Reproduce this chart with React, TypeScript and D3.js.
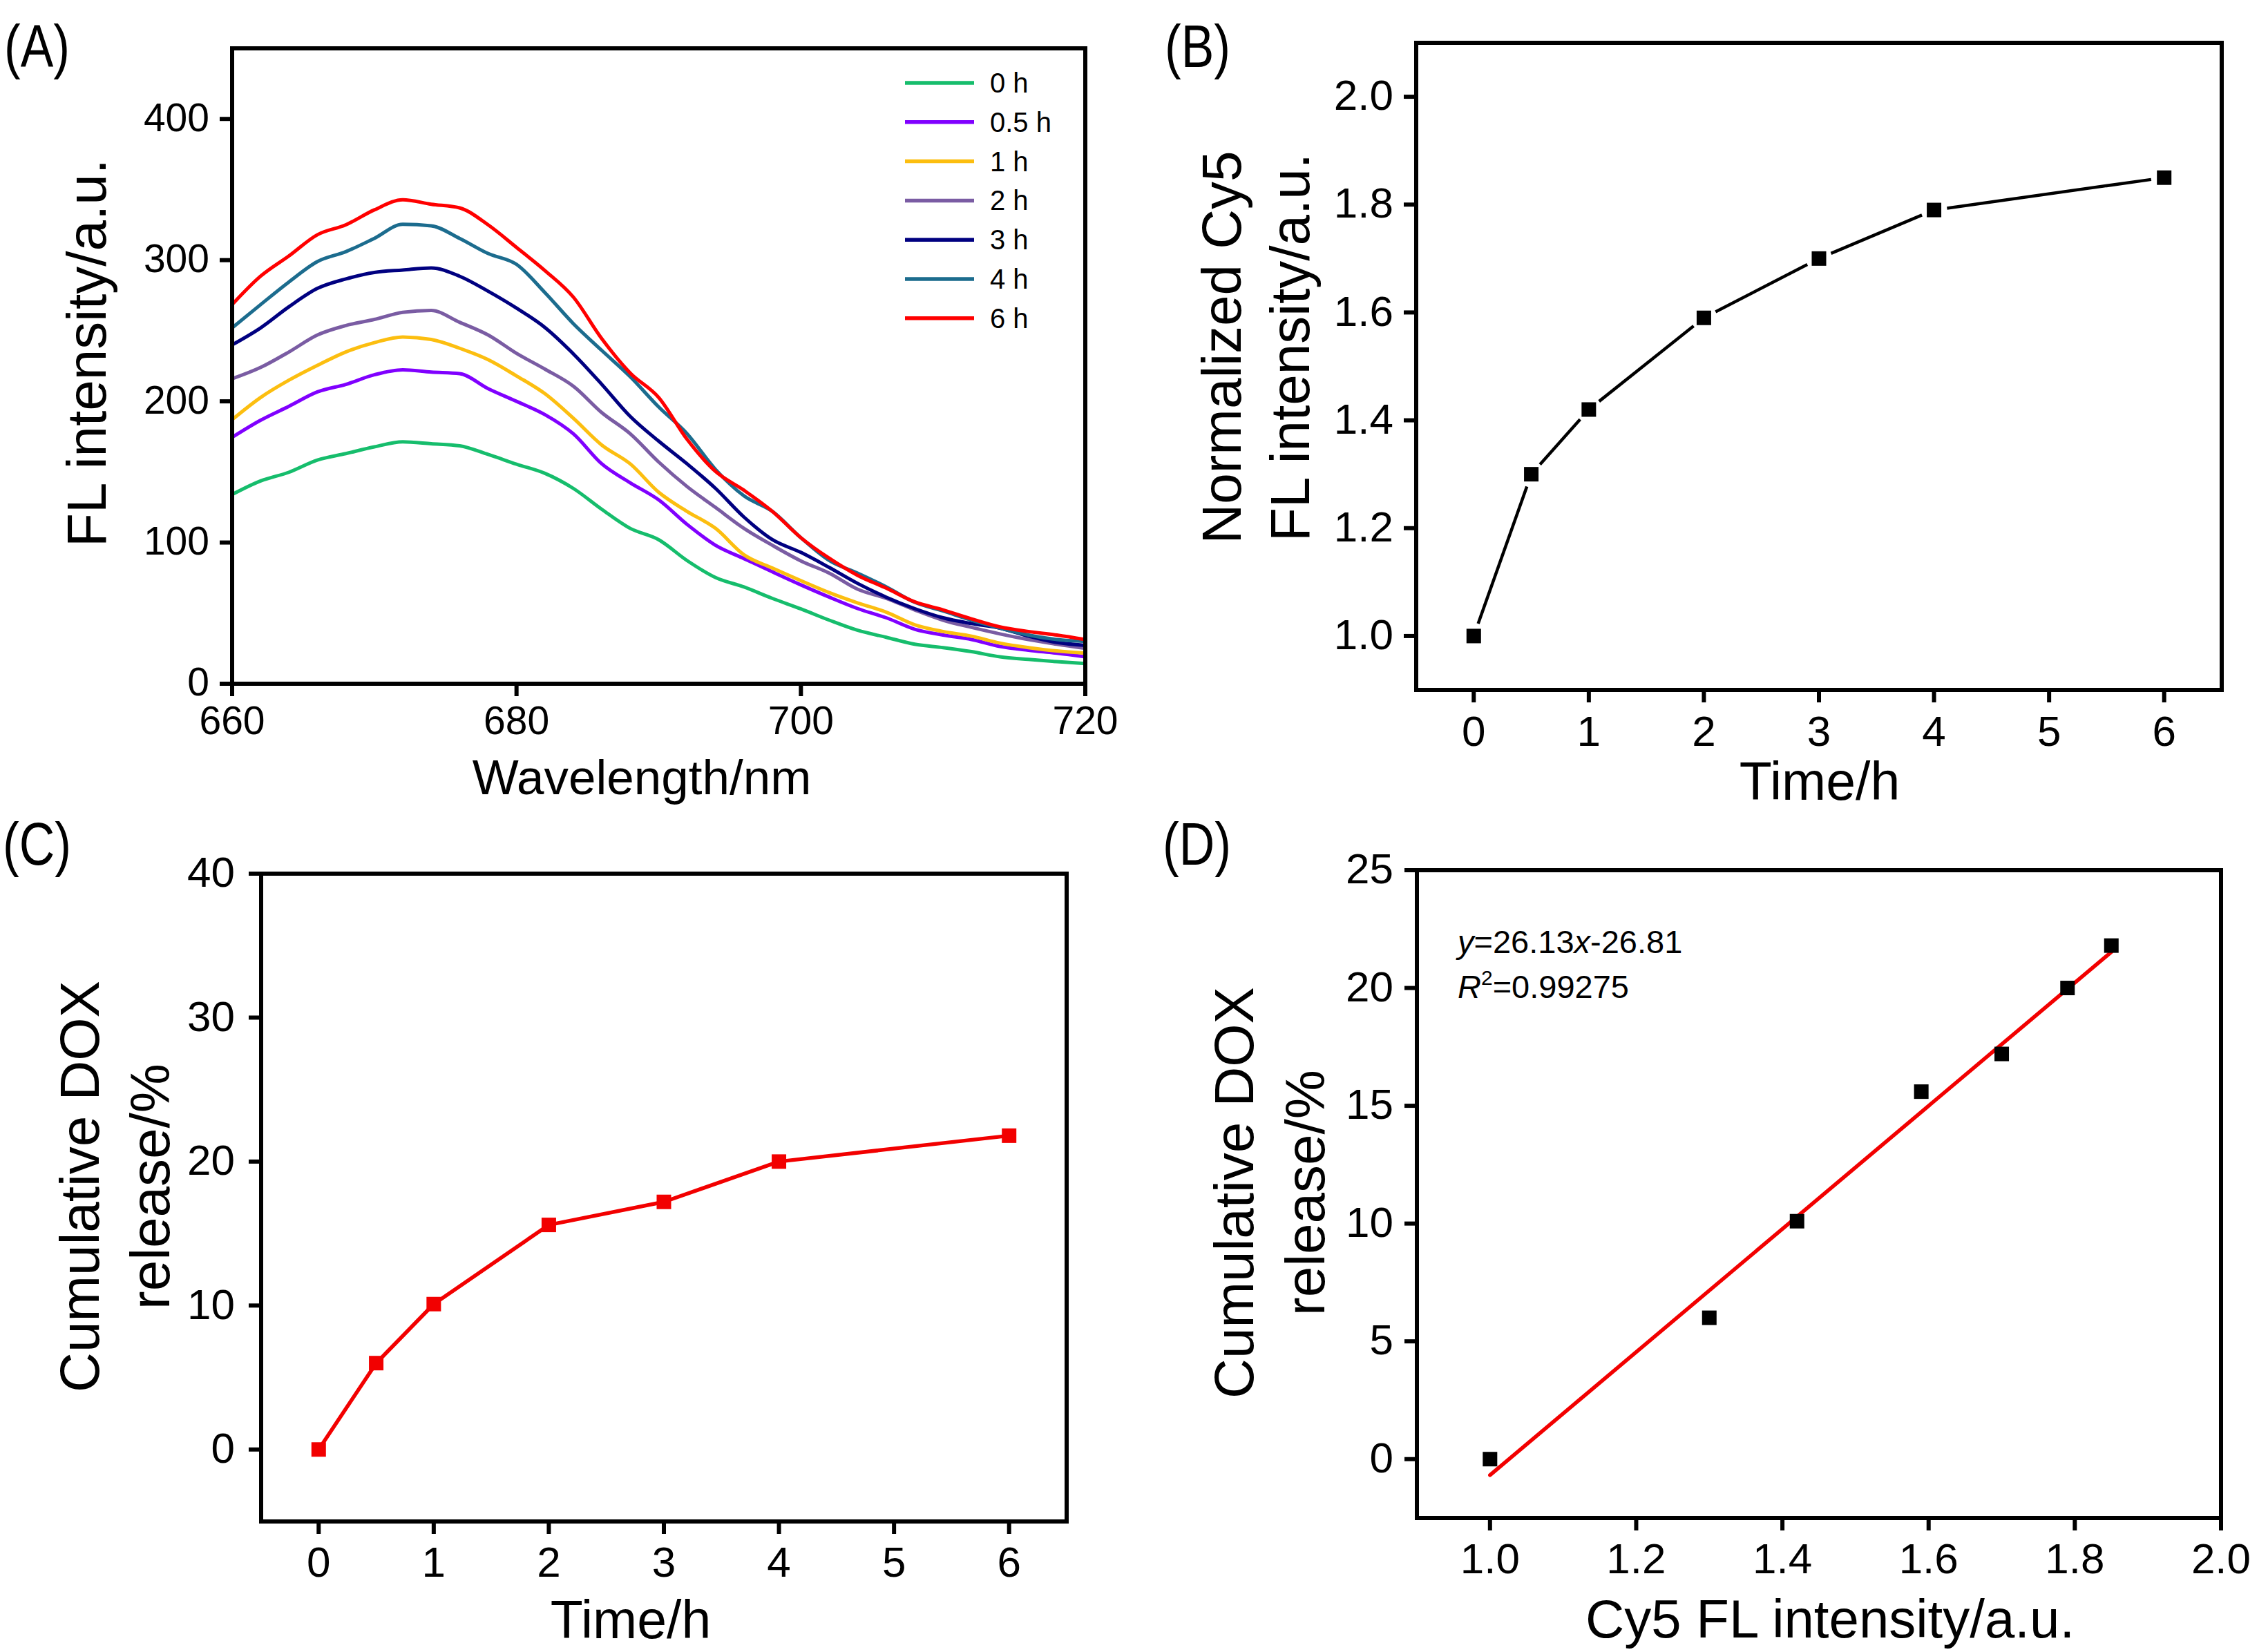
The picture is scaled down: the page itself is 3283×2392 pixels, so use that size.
import React from "react";
import * as d3 from "d3";

// ---------- DATA ----------
const wavelengths = [660, 662, 664, 666, 668, 670, 672, 674, 676, 678, 680, 682, 684, 686, 688, 690, 692, 694, 696, 698, 700, 702, 704, 706, 708, 710, 712, 714, 716, 718, 720];

const spec0h = [134, 143.6, 149.8, 158.4, 163, 167.8, 171.3, 170, 168.5, 162.4, 155.5, 149, 138.3, 123.5, 110, 102, 87.2, 75.2, 68.5, 60.4, 53, 45, 37.8, 32.9, 28, 25.6, 22.7, 19.1, 17.2, 15.6, 14.3];
const spec05h = [174.5, 186.6, 196.5, 206.7, 212, 218.8, 222.3, 220.7, 219.6, 209, 200, 190.6, 177, 155.7, 142.3, 130.2, 112.8, 98, 88.6, 79.2, 70, 61.3, 53.2, 46.7, 38.6, 34.5, 31.3, 26.4, 23.7, 21.6, 19.1];
const spec1h = [187, 202.7, 215, 225.5, 235, 241.6, 245.6, 243.8, 237.6, 229.5, 218, 205.4, 188, 169, 155.7, 135.6, 122, 110, 91.3, 81.9, 73, 64.5, 57.2, 50.7, 41.8, 37, 33.7, 28.8, 25.6, 23.2, 21.6];
const spec2h = [216, 224, 235, 247, 253.7, 258, 263, 264.4, 256, 247, 234, 222.8, 210.7, 192, 177, 157, 139.6, 124.8, 110, 98, 87, 78.3, 66.9, 60.5, 52.3, 45, 39.9, 35.3, 31.3, 28, 25.1];
const spec3h = [240, 252, 267, 280, 286.7, 291.3, 293, 294.5, 288.6, 278, 266, 252.3, 233.6, 212, 189.3, 171.8, 155.7, 138.3, 118, 102, 93, 82.3, 71, 61.3, 53.2, 46.7, 42.6, 39.4, 33.7, 29.2, 27.2];
const spec4h = [252, 268.5, 284.6, 299, 306, 315.4, 325.4, 324.3, 315.4, 304.7, 297, 277, 255, 236, 217.4, 196, 177, 151.7, 133, 122, 103.4, 87.2, 78.3, 68.6, 57.7, 51.5, 45, 39.4, 34.5, 31.3, 30];
const spec6h = [268.5, 288.6, 303, 318, 325, 335.6, 342.8, 339.6, 337, 325, 309, 292.6, 273.8, 244.3, 220, 202.7, 173, 150.3, 137, 122, 103.4, 88.8, 76.7, 67.7, 58, 52.3, 45.9, 40.2, 37, 34.5, 31.3];

const seriesLabels = ["0 h", "0.5 h", "1 h", "2 h", "3 h", "4 h", "6 h"];
const seriesColors = ["#16BD6C", "#8000FF", "#FCBE10", "#7A5CA3", "#000080", "#1C6C8E", "#FF0000"];
const seriesValues = [spec0h, spec05h, spec1h, spec2h, spec3h, spec4h, spec6h];

const times = [0, 0.5, 1, 2, 3, 4, 6];
const cy5Norm = [1.0, 1.3, 1.42, 1.59, 1.7, 1.79, 1.85];
const doxRelease = [0, 6.0, 10.1, 15.6, 17.2, 20.0, 21.8];

const fitSlope = 26.13;
const fitIntercept = -26.81;
const fitRange = [1.0, 1.85];

const ticksA_x = [660, 680, 700, 720];
const ticksA_y = [0, 100, 200, 300, 400];
const ticksB_x = [0, 1, 2, 3, 4, 5, 6];
const ticksB_y = [1.0, 1.2, 1.4, 1.6, 1.8, 2.0];
const ticksC_x = [0, 1, 2, 3, 4, 5, 6];
const ticksC_y = [0, 10, 20, 30, 40];
const ticksD_x = [1.0, 1.2, 1.4, 1.6, 1.8, 2.0];
const ticksD_y = [0, 5, 10, 15, 20, 25];

// ---------- STYLE ----------
const FONT = "'Liberation Sans', Arial, sans-serif";
const YTITLE_FS = 80;
const FRAME_W = 6;
const TICK_LEN = 18;

type Box = { l: number; r: number; t: number; b: number };

function Frame({ box, x, y, xt, yt, xf, yf, fs, xOff, yGap }: { box: Box; x: d3.ScaleLinear<number, number>; y: d3.ScaleLinear<number, number>; xt: number[]; yt: number[]; xf: (v: number) => string; yf: (v: number) => string; fs: number; xOff: number; yGap: number }) {
  return (
    <g>
      <rect x={box.l} y={box.t} width={box.r - box.l} height={box.b - box.t} fill="none" stroke="#000" strokeWidth={FRAME_W} />
      {xt.map((v) => (
        <g key={"x" + v}>
          <line x1={x(v)} x2={x(v)} y1={box.b} y2={box.b + TICK_LEN} stroke="#000" strokeWidth={FRAME_W} />
          <text x={x(v)} y={box.b + xOff} textAnchor="middle" fontSize={fs} fontFamily={FONT}>{xf(v)}</text>
        </g>
      ))}
      {yt.map((v) => (
        <g key={"y" + v}>
          <line x1={box.l - TICK_LEN} x2={box.l} y1={y(v)} y2={y(v)} stroke="#000" strokeWidth={FRAME_W} />
          <text x={box.l - yGap} y={y(v) + fs * 0.358 - 3} textAnchor="end" fontSize={fs} fontFamily={FONT}>{yf(v)}</text>
        </g>
      ))}
    </g>
  );
}

function YTitle({ lines, xs, cy }: { lines: string[]; xs: number[]; cy: number }) {
  return (
    <g>
      {lines.map((s, i) => (
        <text key={i} transform={`translate(${xs[i]},${cy}) rotate(-90)`} textAnchor="middle" fontSize={YTITLE_FS} fontFamily={FONT}>{s}</text>
      ))}
    </g>
  );
}

function PanelLabel({ x, y, s }: { x: number; y: number; s: string }) {
  return (
    <text transform={`translate(${x},${y}) scale(0.81,1)`} fontSize={88} fontFamily={FONT}>{s}</text>
  );
}

function Square({ cx, cy, s, fill }: { cx: number; cy: number; s: number; fill: string }) {
  return <rect x={cx - s / 2} y={cy - s / 2} width={s} height={s} fill={fill} />;
}

export default function App() {
  // Panel A
  const boxA: Box = { l: 336, r: 1571, t: 70, b: 990 };
  const xA = d3.scaleLinear().domain([660, 720]).range([boxA.l, boxA.r]);
  const yA = d3.scaleLinear().domain([0, 450]).range([boxA.b, boxA.t]);
  const lineA = d3.line<number>().x((_, i) => xA(wavelengths[i])).y((d) => yA(d)).curve(d3.curveMonotoneX);

  // Panel B
  const boxB: Box = { l: 2050, r: 3216, t: 62, b: 999 };
  const xB = d3.scaleLinear().domain([-0.5, 6.5]).range([boxB.l, boxB.r]);
  const yB = d3.scaleLinear().domain([0.9, 2.1]).range([boxB.b, boxB.t]);
  const ptsB = times.map((t, i) => [xB(t), yB(cy5Norm[i])]);
  const gap = 19;
  const segB = ptsB.slice(0, -1).map((p, i) => {
    const q = ptsB[i + 1];
    const dx = q[0] - p[0], dy = q[1] - p[1];
    const L = Math.hypot(dx, dy);
    const ux = dx / L, uy = dy / L;
    return [p[0] + ux * gap, p[1] + uy * gap, q[0] - ux * gap, q[1] - uy * gap];
  });

  // Panel C
  const boxC: Box = { l: 378, r: 1544, t: 1265, b: 2203 };
  const xC = d3.scaleLinear().domain([-0.5, 6.5]).range([boxC.l, boxC.r]);
  const yC = d3.scaleLinear().domain([-5, 40]).range([boxC.b, boxC.t]);
  const lineC = d3.line<number>().x((_, i) => xC(times[i])).y((d) => yC(d));

  // Panel D
  const boxD: Box = { l: 2051, r: 3215, t: 1260, b: 2198 };
  const xD = d3.scaleLinear().domain([0.9, 2.0]).range([boxD.l, boxD.r]);
  const yD = d3.scaleLinear().domain([-2.5, 25]).range([boxD.b, boxD.t]);

  const f0 = d3.format(".0f");
  const f1 = d3.format(".1f");
  const RED = "#F20000";

  return (
    <svg width={3283} height={2392} viewBox="0 0 3283 2392" style={{ position: "absolute", left: 0, top: 0, background: "#fff" }} xmlns="http://www.w3.org/2000/svg">
      <rect x={0} y={0} width={3283} height={2392} fill="#fff" />

      {/* ---------- Panel A ---------- */}
      <PanelLabel x={6} y={97} s="(A)" />
      <g>
        {seriesValues.map((vals, k) => (
          <path key={k} d={lineA(vals) || ""} fill="none" stroke={seriesColors[k]} strokeWidth={5} strokeLinejoin="round" />
        ))}
      </g>
      <Frame box={boxA} x={xA} y={yA} xt={ticksA_x} yt={ticksA_y} xf={f0} yf={f0} fs={57} xOff={73} yGap={33} />
      {seriesLabels.map((s, k) => (
        <g key={s}>
          <line x1={1310} x2={1410} y1={120 + k * 56.8} y2={120 + k * 56.8} stroke={seriesColors[k]} strokeWidth={5.5} />
          <text x={1433} y={120 + k * 56.8 + 14} fontSize={40} fontFamily={FONT}>{s}</text>
        </g>
      ))}
      <text x={929} y={1150} textAnchor="middle" fontSize={71} fontFamily={FONT}>Wavelength/nm</text>
      <YTitle lines={["FL intensity/a.u."]} xs={[153]} cy={511} />

      {/* ---------- Panel B ---------- */}
      <PanelLabel x={1686} y={97} s="(B)" />
      {segB.map((s, i) => (
        <line key={i} x1={s[0]} y1={s[1]} x2={s[2]} y2={s[3]} stroke="#000" strokeWidth={4.5} />
      ))}
      {ptsB.map((p, i) => (
        <Square key={i} cx={p[0]} cy={p[1]} s={21} fill="#000" />
      ))}
      <Frame box={boxB} x={xB} y={yB} xt={ticksB_x} yt={ticksB_y} xf={f0} yf={f1} fs={62} xOff={81} yGap={33} />
      <text x={2634} y={1158} textAnchor="middle" fontSize={77} fontFamily={FONT}>Time/h</text>
      <YTitle lines={["Normalized Cy5", "FL intensity/a.u."]} xs={[1796, 1895]} cy={503} />

      {/* ---------- Panel C ---------- */}
      <PanelLabel x={4} y={1252} s="(C)" />
      <path d={lineC(doxRelease) || ""} fill="none" stroke={RED} strokeWidth={5.5} strokeLinejoin="round" />
      {times.map((t, i) => (
        <Square key={i} cx={xC(t)} cy={yC(doxRelease[i])} s={21} fill={RED} />
      ))}
      <Frame box={boxC} x={xC} y={yC} xt={ticksC_x} yt={ticksC_y} xf={f0} yf={f0} fs={62} xOff={80} yGap={38} />
      <text x={913} y={2372} textAnchor="middle" fontSize={77} fontFamily={FONT}>Time/h</text>
      <YTitle lines={["Cumulative DOX", "release/%"]} xs={[143, 245]} cy={1718} />

      {/* ---------- Panel D ---------- */}
      <PanelLabel x={1683} y={1252} s="(D)" />
      <line x1={xD(fitRange[0])} y1={yD(fitSlope * fitRange[0] + fitIntercept)} x2={xD(fitRange[1])} y2={yD(fitSlope * fitRange[1] + fitIntercept)} stroke={RED} strokeWidth={5.5} strokeLinecap="round" />
      {cy5Norm.map((c, i) => (
        <Square key={i} cx={xD(c)} cy={yD(doxRelease[i])} s={21} fill="#000" />
      ))}
      <Frame box={boxD} x={xD} y={yD} xt={ticksD_x} yt={ticksD_y} xf={f1} yf={f0} fs={62} xOff={80} yGap={34} />
      <text x={2110} y={1380} fontSize={47} fontFamily={FONT}>
        <tspan fontStyle="italic">y</tspan>
        <tspan>=26.13</tspan>
        <tspan fontStyle="italic">x</tspan>
        <tspan>-26.81</tspan>
      </text>
      <text x={2110} y={1445} fontSize={47} fontFamily={FONT}>
        <tspan fontStyle="italic">R</tspan>
        <tspan fontSize={30} dy={-19}>2</tspan>
        <tspan dy={19}>=0.99275</tspan>
      </text>
      <text x={2649} y={2371} textAnchor="middle" fontSize={78} fontFamily={FONT}>Cy5 FL intensity/a.u.</text>
      <YTitle lines={["Cumulative DOX", "release/%"]} xs={[1814, 1917]} cy={1727} />
    </svg>
  );
}
